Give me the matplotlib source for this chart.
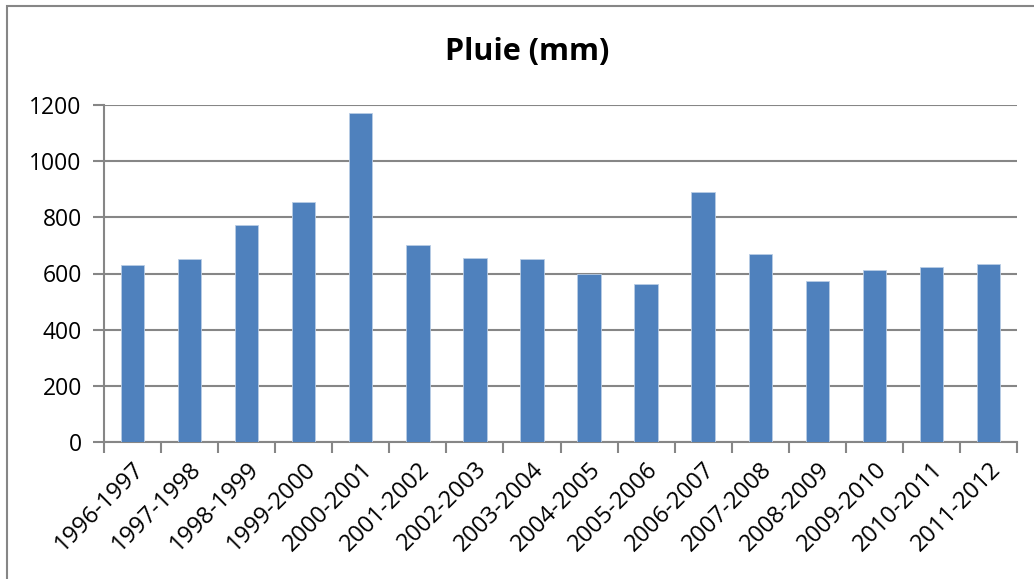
import matplotlib.pyplot as plt
import numpy as np
from matplotlib.patches import Rectangle

saisons = ['1996-1997', '1997-1998', '1998-1999', '1999-2000', '2000-2001',
           '2001-2002', '2002-2003', '2003-2004', '2004-2005', '2005-2006',
           '2006-2007', '2007-2008', '2008-2009', '2009-2010', '2010-2011',
           '2011-2012']
pluie = [629, 650, 773, 856, 1171, 701, 656, 651, 600, 562,
         889, 671, 575, 611, 623, 633]
yticks = [0, 200, 400, 600, 800, 1000, 1200]

plt.rcParams['font.family'] = ['Open Sans', 'DejaVu Sans']
grey = '#868686'

fig = plt.figure(figsize=(10.34, 5.79), dpi=100)
ax = fig.add_axes([104/1034, 1 - 442/579, (1017 - 104)/1034, (442 - 105)/579])

x = np.arange(len(saisons))
ax.bar(x, pluie, width=0.41, color='#4f81bd', edgecolor='#b9cde5', linewidth=0.6, zorder=3)

ax.set_xlim(-0.5, len(saisons) - 0.5)
ax.set_ylim(0, 1200)
ax.set_yticks(yticks)
ax.set_yticklabels([str(v) for v in yticks], fontsize=16.5)
ax.yaxis.grid(True, color=grey, linewidth=1.5, zorder=0)
ax.tick_params(axis='y', length=8, width=1.5, color=grey, pad=8)

ax.set_xticks(x)
ax.set_xticklabels(saisons, rotation=45, ha='right', rotation_mode='anchor', fontsize=17)
ax.tick_params(axis='x', length=0, pad=11)
ax.set_xticks(np.arange(len(saisons) + 1) - 0.5, minor=True)
ax.tick_params(axis='x', which='minor', length=8, width=1.5, color=grey)

for s in ['top', 'right']:
    ax.spines[s].set_visible(False)
for s in ['left', 'bottom']:
    ax.spines[s].set_color(grey)
    ax.spines[s].set_linewidth(1.5)

fig.text(527/1034, 1 - 52/579, 'Pluie (mm)', ha='center', va='center',
         fontsize=22, fontweight='bold')

fig.patches.append(Rectangle((7/1034, -0.1), 1.2, 1 - 6/579 + 0.1, transform=fig.transFigure,
                             fill=False, edgecolor=grey, linewidth=1.5))

fig.savefig('out.png', dpi=100)
